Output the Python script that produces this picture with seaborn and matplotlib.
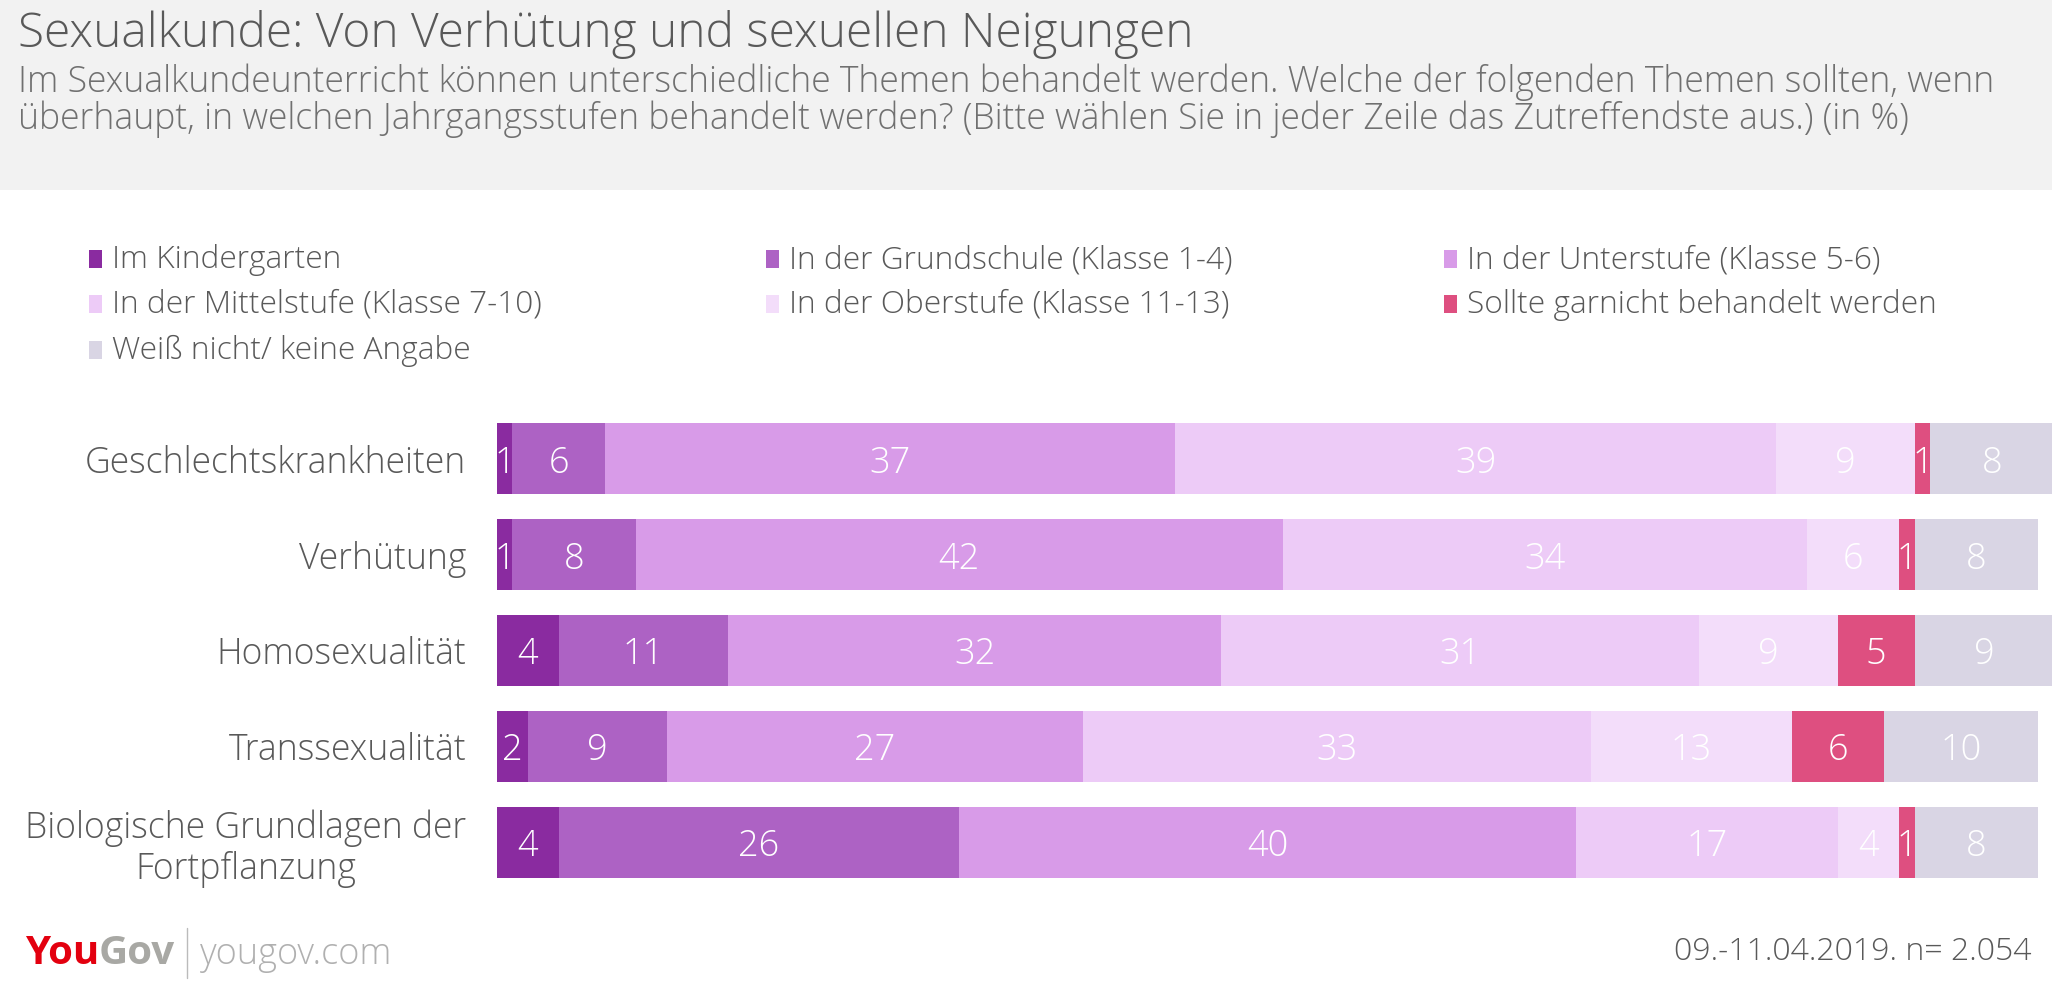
import matplotlib
matplotlib.use("Agg")
import matplotlib.pyplot as plt
from matplotlib.patches import Rectangle
import pandas as pd
import seaborn as sns

# Data (in %)
categories = ["Geschlechtskrankheiten", "Verhütung", "Homosexualität", "Transsexualität",
              "Biologische Grundlagen der\nFortpflanzung"]
series_names = ["Im Kindergarten", "In der Grundschule (Klasse 1-4)", "In der Unterstufe (Klasse 5-6)",
                "In der Mittelstufe (Klasse 7-10)", "In der Oberstufe (Klasse 11-13)",
                "Sollte garnicht behandelt werden", "Weiß nicht/ keine Angabe"]
kindergarten = [1, 1, 4, 2, 4]
grundschule = [6, 8, 11, 9, 26]
unterstufe = [37, 42, 32, 27, 40]
mittelstufe = [39, 34, 31, 33, 17]
oberstufe = [9, 6, 9, 13, 4]
garnicht = [1, 1, 5, 6, 1]
weiss_nicht = [8, 8, 9, 10, 8]
colors = ["#8A2BA0", "#AD62C4", "#D89BE8", "#EDCBF7", "#F3DDFA", "#DE4F80", "#D9D5E4"]

title = "Sexualkunde: Von Verhütung und sexuellen Neigungen"
subtitle1 = ("Im Sexualkundeunterricht können unterschiedliche Themen behandelt werden. "
             "Welche der folgenden Themen sollten, wenn")
subtitle2 = ("überhaupt, in welchen Jahrgangsstufen behandelt werden? "
             "(Bitte wählen Sie in jeder Zeile das Zutreffendste aus.) (in %)")
footnote = "09.-11.04.2019. n= 2.054"

sns.set_theme(style="white")
plt.rcParams['font.family'] = ['Open Sans', 'DejaVu Sans']
plt.rcParams['font.weight'] = 'light'
text_gray = "#595959"

values = [kindergarten, grundschule, unterstufe, mittelstufe, oberstufe, garnicht, weiss_nicht]
df = pd.DataFrame(dict(zip(series_names, values)))
df["Thema"] = categories
cum = df[series_names].cumsum(axis=1)

fig = plt.figure(figsize=(20.52, 10), dpi=100)
fig.patches.append(Rectangle((0, 0.81), 1, 0.19, transform=fig.transFigure,
                             facecolor="#F2F2F2", edgecolor="none", zorder=0))

fig.text(0.009, 0.953, title, fontsize=34.5, color=text_gray, va="baseline")
fig.text(0.009, 0.908, subtitle1, fontsize=25.6, color="#707070", va="baseline")
fig.text(0.009, 0.871, subtitle2, fontsize=25.6, color="#707070", va="baseline")

ax = fig.add_axes([0.2422, 0.110, 0.7578, 0.479])

# stacked bars: draw cumulative totals from the last series to the first
for name, color in reversed(list(zip(series_names, colors))):
    sns.barplot(x=cum[name], y=df["Thema"], color=color, saturation=1, width=0.74,
                orient="h", linewidth=0, ax=ax)

for name in series_names:
    for i, v in enumerate(df[name]):
        ax.text(cum[name][i] - v / 2, i, str(v), ha="center", va="center_baseline",
                color="white", fontsize=26)

ax.set_xlim(0, 100.9)
ax.set_ylim(4.5, -0.5)
ax.set_xticks([])
ax.set_yticks(range(len(categories)))
ax.set_yticklabels(categories, fontsize=25.6, color=text_gray, ha="right",
                   multialignment="center", linespacing=1.15)
ax.tick_params(axis="y", length=0, pad=22)
ax.set_xlabel("")
ax.set_ylabel("")
sns.despine(ax=ax, left=True, bottom=True)

# legend, laid out row-wise in three columns
col_x = [89, 766, 1444]
row_y = [268, 313, 359]
for i, (name, color) in enumerate(zip(series_names, colors)):
    x = col_x[i % 3] / 2052
    y = 1 - row_y[i // 3] / 1000
    fig.patches.append(Rectangle((x, y), 13 / 2052, 0.018, transform=fig.transFigure,
                                 facecolor=color, edgecolor="none"))
    fig.text(x + 23 / 2052, y, name, fontsize=22.8, color=text_gray, va="baseline")

# footer
r = fig.canvas.get_renderer()
t1 = fig.text(0.012, 0.036, "You", fontsize=29, color="#E3000F", fontweight="bold", va="baseline")
bb = t1.get_window_extent(r)
t2 = fig.text(bb.x1 / 2052, 0.036, "Gov", fontsize=29, color="#A8A8A4", fontweight="bold", va="baseline")
bb = t2.get_window_extent(r)
fig.lines.append(plt.Line2D([bb.x1 / 2052 + 0.006] * 2, [0.022, 0.072], transform=fig.transFigure,
                            color="#BBBBBB", linewidth=1))
fig.text(bb.x1 / 2052 + 0.012, 0.036, "yougov.com", fontsize=26, color="#B0B0B0", va="baseline")
fig.text(0.990, 0.040, footnote, fontsize=23, color=text_gray, ha="right", va="baseline")

fig.savefig("out.png", dpi=100, facecolor="white")
